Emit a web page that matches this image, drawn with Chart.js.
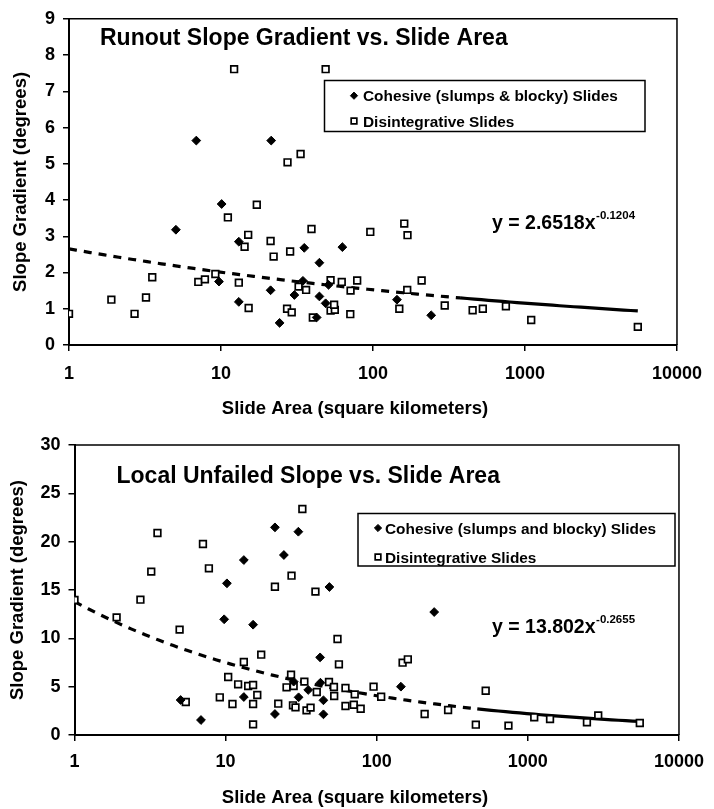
<!DOCTYPE html>
<html><head><meta charset="utf-8">
<script src="https://cdn.jsdelivr.net/npm/chart.js@4.4.1/dist/chart.umd.min.js"></script>
<style>
html,body{margin:0;padding:0;background:#fff;}
#wrap{position:relative;width:714px;height:809px;}
.c{position:absolute;left:0;width:714px;}
</style></head><body>
<div id="wrap">
<div class="c" style="top:0;height:420px"><canvas id="c1" width="714" height="420"></canvas></div>
<div class="c" style="top:420px;height:389px"><canvas id="c2" width="714" height="389"></canvas></div>
</div>
<script>
// ---------- DATA ----------
const xTickValues = [1, 10, 100, 1000, 10000];
const runoutYTicks = [0, 1, 2, 3, 4, 5, 6, 7, 8, 9];
const localYTicks = [0, 5, 10, 15, 20, 25, 30];

// Top chart: Runout slope gradient
const runoutCohesiveX = [6.88, 21.4, 10.1, 5.05, 13.1, 35.3, 44.4, 62.9, 9.70, 13.1, 21.2, 24.3, 30.4, 34.6, 42.6, 44.4, 48.8, 51.0, 143.8, 241.6];
const runoutCohesiveY = [5.64, 5.64, 3.89, 3.18, 2.85, 2.68, 2.27, 2.70, 1.75, 1.19, 1.51, 0.61, 1.38, 1.77, 0.76, 1.34, 1.15, 1.66, 1.25, 0.82];
const runoutDisintX = [12.2, 48.8, 27.4, 33.4, 11.1, 17.2, 15.1, 14.3, 21.2, 22.2, 28.5, 39.4, 3.53, 1.90, 2.70, 3.21, 1.0, 7.09, 7.84, 9.18, 13.1, 15.2, 27.2, 29.2, 32.4, 36.3, 40.2, 52.6, 52.6, 56.1, 55.5, 62.3, 71.2, 70.9, 78.7, 96.0, 160.6, 168.7, 209, 168, 149, 296.5, 452.5, 528, 749, 1099, 5525];
const runoutDisintY = [7.61, 7.61, 5.04, 5.27, 3.52, 3.87, 3.04, 2.71, 2.87, 2.44, 2.58, 3.20, 1.87, 1.25, 0.86, 1.31, 0.86, 1.74, 1.81, 1.96, 1.72, 1.02, 1.00, 0.90, 1.61, 1.52, 0.76, 1.79, 0.95, 0.97, 1.11, 1.74, 1.50, 0.85, 1.78, 3.12, 3.35, 3.03, 1.78, 1.52, 1.00, 1.09, 0.96, 1.00, 1.07, 0.69, 0.50];
const runoutTrend = { a: 2.6518, b: -0.1204, xMin: 1, xMax: 5525, dashUntil: 360 };

// Bottom chart: Local unfailed slope
const localCohesiveX = [10.2, 13.2, 21.2, 24.3, 30.3, 48.6, 9.78, 15.2, 42.2, 5.04, 6.87, 13.2, 21.2, 28.2, 30.4, 35.2, 42.4, 44.4, 44.4, 144.5, 240];
const localCohesiveY = [15.69, 18.1, 21.48, 18.62, 21.03, 15.31, 11.97, 11.41, 8.03, 3.62, 1.55, 3.93, 2.17, 5.52, 3.9, 4.66, 5.41, 3.59, 2.14, 5.0, 12.72];
const localDisintX = [1, 1.90, 2.73, 3.22, 3.54, 7.08, 7.75, 21.2, 27.3, 32.2, 39.3, 4.96, 55.0, 56.2, 17.2, 13.2, 10.4, 27.1, 12.1, 14.1, 15.2, 9.15, 5.45, 11.1, 15.2, 16.2, 15.2, 22.3, 25.3, 28.2, 27.9, 29.0, 33.2, 34.3, 36.5, 40.1, 48.3, 52.1, 52.3, 62.1, 62.1, 70.5, 71.5, 78.3, 95.3, 107, 148.3, 160.6, 207.5, 296.6, 526, 452.6, 744, 1102, 1402, 2460, 2922, 5505];
const localDisintY = [13.97, 12.17, 14.0, 16.9, 20.9, 19.76, 17.24, 15.34, 16.48, 23.38, 14.83, 10.9, 9.93, 7.31, 8.31, 7.55, 6.0, 6.24, 5.24, 5.07, 5.17, 3.9, 3.41, 3.21, 3.21, 4.14, 1.1, 3.24, 4.93, 5.07, 3.07, 2.86, 5.52, 2.55, 2.83, 4.45, 5.48, 4.97, 4.03, 4.86, 3.0, 3.13, 4.2, 2.72, 5.0, 3.96, 7.48, 7.83, 2.17, 2.59, 4.58, 1.07, 0.97, 1.83, 1.66, 1.31, 2.03, 1.24];
const localTrend = { a: 13.802, b: -0.2655, xMin: 1, xMax: 5505, dashUntil: 460 };

const labelsRunout = ['Cohesive (slumps & blocky) Slides', 'Disintegrative Slides'];
const labelsLocal = ['Cohesive (slumps and blocky) Slides', 'Disintegrative Slides'];
const titleRunout = 'Runout Slope Gradient vs. Slide Area';
const titleLocal = 'Local Unfailed Slope vs. Slide Area';
const xTitle = 'Slide Area (square kilometers)';
const yTitle = 'Slope Gradient (degrees)';

// ---------- HELPERS ----------
const FONT = '"Liberation Sans", Arial, Helvetica, sans-serif';
const zip = (xs, ys) => xs.map((x, i) => ({ x: x, y: ys[i] }));
function trendPoints(t) {
  const pts = [];
  const n = 80;
  const l0 = Math.log10(t.xMin), l1 = Math.log10(t.xMax);
  for (let i = 0; i <= n; i++) {
    const x = Math.pow(10, l0 + (l1 - l0) * i / n);
    pts.push({ x: x, y: t.a * Math.pow(x, t.b) });
  }
  return pts;
}

function makeChart(canvasId, o) {
  const decor = {
    id: 'decor' + canvasId,
    afterDraw(chart) {
      const ctx = chart.ctx, ca = chart.chartArea;
      ctx.save();
      // frame
      ctx.strokeStyle = '#000';
      ctx.lineWidth = 1.5;
      ctx.beginPath();
      ctx.moveTo(ca.left, ca.top); ctx.lineTo(ca.right, ca.top); ctx.lineTo(ca.right, ca.bottom);
      ctx.stroke();
      // title
      ctx.fillStyle = '#000';
      ctx.textBaseline = 'alphabetic';
      ctx.textAlign = 'left';
      ctx.font = 'bold 23px ' + FONT;
      ctx.fillText(o.title, o.titlePos[0], o.titlePos[1]);
      // legend
      const L = o.legend;
      ctx.fillStyle = '#fff';
      ctx.fillRect(L.x, L.y, L.w, L.h);
      ctx.lineWidth = 1.5;
      ctx.strokeStyle = '#000';
      ctx.strokeRect(L.x, L.y, L.w, L.h);
      chart.data.datasets.slice(0, 2).forEach((ds, i) => {
        const cy = L.rows[i];
        ctx.fillStyle = ds.pointBackgroundColor;
        ctx.strokeStyle = ds.pointBorderColor;
        ctx.lineWidth = ds.pointBorderWidth;
        Chart.helpers.drawPoint(ctx, {
          pointStyle: ds.pointStyle, radius: ds.pointStyle === 'rectRot' ? 3.6 : 4.0,
          borderWidth: ds.pointBorderWidth, rotation: 0
        }, L.markX, cy);
        ctx.fillStyle = '#000';
        ctx.font = 'bold 15.4px ' + FONT;
        ctx.fillText(ds.label, L.textX, cy + 5.5);
      });
      // equation
      const E = o.eq;
      ctx.fillStyle = '#000';
      ctx.font = 'bold 19.5px ' + FONT;
      ctx.fillText(E.main, E.x, E.y);
      const w = ctx.measureText(E.main).width;
      ctx.font = 'bold 11.5px ' + FONT;
      ctx.fillText(E.sup, E.x + w + 0.5, E.y - 10);
      ctx.restore();
    }
  };
  return new Chart(document.getElementById(canvasId), {
    type: 'scatter',
    data: {
      datasets: [
        {
          label: o.labels[0], data: o.cohesive,
          pointStyle: 'rectRot', pointRadius: 4.4, pointBackgroundColor: '#000', pointBorderColor: '#000', pointBorderWidth: 1
        },
        {
          label: o.labels[1], data: o.disint,
          pointStyle: 'rect', pointRadius: 4.7, pointBackgroundColor: '#fff', pointBorderColor: '#000', pointBorderWidth: 1.7
        },
        {
          label: 'Power trend', data: o.trend, showLine: true, pointRadius: 0, borderColor: '#000', borderWidth: 3.2,
          segment: { borderDash: c => (c.p0.parsed.x < o.dashUntil ? [8, 7] : undefined) }
        }
      ]
    },
    options: {
      responsive: false, animation: false,
      layout: { padding: { top: o.padTop, right: 4, left: 0, bottom: 0 } },
      plugins: {
        legend: { display: false }, tooltip: { enabled: false },
        title: {
          display: true, position: 'bottom', text: xTitle, color: '#000',
          font: { family: FONT, size: 18.5, weight: 'bold' }, padding: { top: o.titlePadTop, bottom: 0 }
        }
      },
      scales: {
        x: {
          type: 'logarithmic', min: 1, max: 10000,
          afterBuildTicks: s => { s.ticks = xTickValues.map(v => ({ value: v })); },
          afterFit: s => { s.height = o.xAxisH; },
          ticks: { callback: v => String(v), color: '#000', font: { family: FONT, size: 18, weight: 'bold' }, padding: o.xTickPad, autoSkip: false, maxRotation: 0 },
          grid: { drawOnChartArea: false, drawTicks: true, tickLength: 6, color: '#000', lineWidth: 1.5 },
          border: { display: true, color: '#000', width: 2 }
        },
        y: {
          type: 'linear', min: 0, max: o.yMax,
          afterBuildTicks: s => { s.ticks = o.yTicks.map(v => ({ value: v })); },
          afterFit: s => { s.width = o.yAxisW; },
          ticks: { color: '#000', font: { family: FONT, size: 18, weight: 'bold' }, padding: 8 },
          grid: { drawOnChartArea: false, drawTicks: true, tickLength: 6, color: '#000', lineWidth: 1.5 },
          border: { display: true, color: '#000', width: 2 },
          title: { display: true, text: yTitle, color: '#000', font: { family: FONT, size: 18.5, weight: 'bold' }, padding: { top: o.yTitlePad, bottom: 0 } }
        },
        yRightSpacer: {
          type: 'linear', axis: 'y', position: 'right', display: true,
          grid: { display: false }, ticks: { display: false }, border: { display: false },
          afterFit: s => { s.width = 25; }
        }
      }
    },
    plugins: [decor]
  });
}

makeChart('c1', {
  labels: labelsRunout,
  cohesive: zip(runoutCohesiveX, runoutCohesiveY),
  disint: zip(runoutDisintX, runoutDisintY),
  trend: trendPoints(runoutTrend), dashUntil: runoutTrend.dashUntil,
  yMax: 9, yTicks: runoutYTicks,
  padTop: 15, yAxisW: 69, xAxisH: 45, titlePadTop: 7.8, xTickPad: 12, yTitlePad: 9.4,
  title: titleRunout, titlePos: [100, 45],
  legend: { x: 324.5, y: 80.5, w: 320.5, h: 51, rows: [95.7, 121], markX: 354, textX: 363 },
  eq: { main: 'y = 2.6518x', sup: '-0.1204', x: 492, y: 229 }
});

makeChart('c2', {
  labels: labelsLocal,
  cohesive: zip(localCohesiveX, localCohesiveY),
  disint: zip(localDisintX, localDisintY),
  trend: trendPoints(localTrend), dashUntil: localTrend.dashUntil,
  yMax: 30, yTicks: localYTicks,
  padTop: 25, yAxisW: 74.5, xAxisH: 44, titlePadTop: 7.8, xTickPad: 10, yTitlePad: 6.4,
  title: titleLocal, titlePos: [116.5, 63],
  legend: { x: 358, y: 93.5, w: 317, h: 52.5, rows: [108, 137], markX: 378, textX: 385 },
  eq: { main: 'y = 13.802x', sup: '-0.2655', x: 492, y: 213 }
});
</script>
</body></html>
